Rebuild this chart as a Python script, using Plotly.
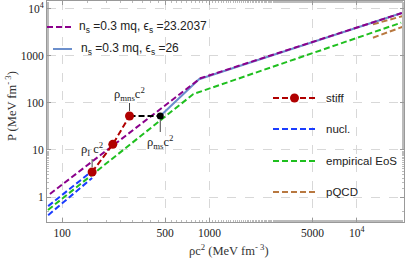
import plotly.graph_objects as go
import math

# ---- data ----
purple_x = [82.8, 869, 20200]
purple_y = [1.16, 336, 8220]

eps26_x = [464, 850, 20200]
eps26_y = [52.9, 320, 8220]

nucl_hi_x = [80.5, 160]
nucl_hi_y = [0.64, 3.57]
nucl_lo_x = [80.5, 160]
nucl_lo_y = [0.41, 2.54]

emp_x = [80.3, 778, 20000]
emp_y = [0.53, 155, 5110]

stiff_x = [160, 221, 287]
stiff_y = [3.4, 13.2, 52.9]

plateau_x = [287, 464]
plateau_y = [52.9, 52.9]

pqcd_hi_x = [12860, 20550]
pqcd_hi_y = [4720, 7100]
pqcd_lo_x = [12860, 20550]
pqcd_lo_y = [2450, 4200]

xtick_vals = [100, 500, 1000, 5000, 10000]
xtick_text = ["100", "500", "1000", "5000", "10<sup>4</sup>"]
ytick_vals = [1, 10, 100, 1000, 10000]
ytick_text = ["1", "10", "100", "1000", "10<sup>4</sup>"]

PURPLE = "#8B008B"
STEEL = "#6C8FCC"
BLUE = "#1A3CFF"
GREEN = "#1FBF1F"
RED = "#B00000"
BROWN = "#B87840"
DASH = "6px,3px"

fig = go.Figure()

def line(x, y, color, dash=DASH, width=2):
    fig.add_trace(go.Scatter(x=x, y=y, mode="lines", showlegend=False,
                             line=dict(color=color, width=width, dash=dash),
                             hoverinfo="skip"))

line(nucl_hi_x, nucl_hi_y, BLUE)
line(nucl_lo_x, nucl_lo_y, BLUE)
line(emp_x, emp_y, GREEN)
line(pqcd_hi_x, pqcd_hi_y, BROWN)
line(pqcd_lo_x, pqcd_lo_y, BROWN)
line(eps26_x, eps26_y, STEEL, dash="solid")
line(purple_x, purple_y, PURPLE)
line(plateau_x, plateau_y, "black")
fig.add_trace(go.Scatter(x=stiff_x, y=stiff_y, mode="lines+markers", showlegend=False,
                         line=dict(color=RED, width=2, dash=DASH),
                         marker=dict(color=RED, size=9), hoverinfo="skip"))
fig.add_trace(go.Scatter(x=[plateau_x[-1]], y=[plateau_y[-1]], mode="markers", showlegend=False,
                         marker=dict(color="black", size=7), hoverinfo="skip"))

# ---- layout geometry ----
W, H = 407, 262
L, R, T, B = 47, 3, 1, 40
PW, PH = W - L - R, H - T - B

def px(x):
    return (x - L) / PW

def py(y):
    return (H - B - y) / PH

shapes = []
annotations = []

def leg_line(x0, x1, y, color, dash="dash", width=2):
    shapes.append(dict(type="line", xref="paper", yref="paper",
                       x0=px(x0), x1=px(x1), y0=py(y), y1=py(y),
                       line=dict(color=color, width=width, dash=dash)))

def leg_text(x, y, text, size=11):
    annotations.append(dict(xref="paper", yref="paper", x=px(x), y=py(y), text=text,
                            showarrow=False, xanchor="left", yanchor="middle",
                            font=dict(family="Liberation Sans, Arial", size=size, color="#222")))

# top-left legend
leg_line(47, 72, 27, PURPLE, dash=DASH)
leg_text(77, 27, "n<sub>s</sub> =0.3 mq, ϵ<sub>s</sub> =23.2037", size=12)
leg_line(53, 72, 49, STEEL, dash="solid")
leg_text(79, 49, "n<sub>s</sub> =0.3 mq, ϵ<sub>s</sub> =26", size=12)

# right legend
leg_line(273, 316, 98, RED, dash=DASH)
shapes.append(dict(type="circle", xref="paper", yref="paper",
                   x0=px(290), x1=px(299), y0=py(93.5), y1=py(102.5),
                   fillcolor=RED, line=dict(color=RED, width=0)))
leg_text(324, 98, "stiff", size=11.5)
leg_line(273, 316, 129, BLUE, dash=DASH)
leg_text(324, 129, "nucl.", size=11.5)
leg_line(273, 316, 161, GREEN, dash=DASH)
leg_text(324, 161, "empirical EoS", size=11.5)
leg_line(273, 316, 192, BROWN, dash=DASH)
leg_text(324, 192, "pQCD", size=11.5)

# point labels
def label(xd, yd, text, dy_text):
    annotations.append(dict(x=math.log10(xd), y=math.log10(yd), xref="x", yref="y", text=text,
                            showarrow=False, yshift=dy_text, xanchor="center", yanchor="middle",
                            font=dict(family="Liberation Serif, Times New Roman", size=12.5, color="#222")))

label(stiff_x[0], stiff_y[0], "ρ<sub>I</sub> c<sup>2</sup>", 23)
label(stiff_x[2], stiff_y[2], "ρ<sub>mns</sub>c<sup>2</sup>", 22)
label(plateau_x[1], plateau_y[1], "ρ<sub>ms</sub>c<sup>2</sup>", -26)

dec_per_px_y = (4.17 - (-0.532)) / PH
def pointer(xd, yd, a, b):
    ly = math.log10(yd)
    shapes.append(dict(type="line", xref="x", yref="y",
                       x0=xd, x1=xd, y0=10 ** (ly + a * dec_per_px_y), y1=10 ** (ly + b * dec_per_px_y),
                       line=dict(color="#444", width=1)))

pointer(stiff_x[0], stiff_y[0], 5, 13)
pointer(stiff_x[2], stiff_y[2], 5, 13)
pointer(plateau_x[1], plateau_y[1], -4, -16)

# axis titles
annotations.append(dict(xref="paper", yref="paper", x=px(229), y=py(250), text="ρc<sup>2</sup> (MeV fm<sup>- 3</sup>)",
                        showarrow=False, xanchor="center", yanchor="middle",
                        font=dict(family="Liberation Serif, Times New Roman", size=12.5, color="#333")))
annotations.append(dict(xref="paper", yref="paper", x=px(11), y=py(106), text="P (MeV fm<sup>- 3</sup>)",
                        showarrow=False, xanchor="center", yanchor="middle", textangle=-90,
                        font=dict(family="Liberation Serif, Times New Roman", size=12.5, color="#333")))

axis_common = dict(type="log", showline=True, mirror="ticks", linecolor="#999", linewidth=1,
                   ticks="inside", ticklen=4, tickcolor="#999", tickwidth=1,
                   showgrid=True, gridcolor="#d8d8d8", griddash="dash", gridwidth=1,
                   zeroline=False,
                   tickfont=dict(family="Liberation Serif, Times New Roman", size=11.5, color="#222"),
                   minor=dict(ticks="inside", ticklen=2, tickcolor="#bbb", showgrid=False))

fig.update_xaxes(range=[1.898, 4.32], tickvals=xtick_vals, ticktext=xtick_text, **axis_common)
fig.update_yaxes(range=[-0.532, 4.17], tickvals=ytick_vals, ticktext=ytick_text, **axis_common)

fig.update_layout(width=W, height=H, margin=dict(l=L, r=R, t=T, b=B),
                  paper_bgcolor="white", plot_bgcolor="white",
                  shapes=shapes, annotations=annotations, showlegend=False)

fig.write_html("out.html", config={"displayModeBar": False},
               post_script="document.body.style.margin='0';document.body.style.overflow='hidden';")
